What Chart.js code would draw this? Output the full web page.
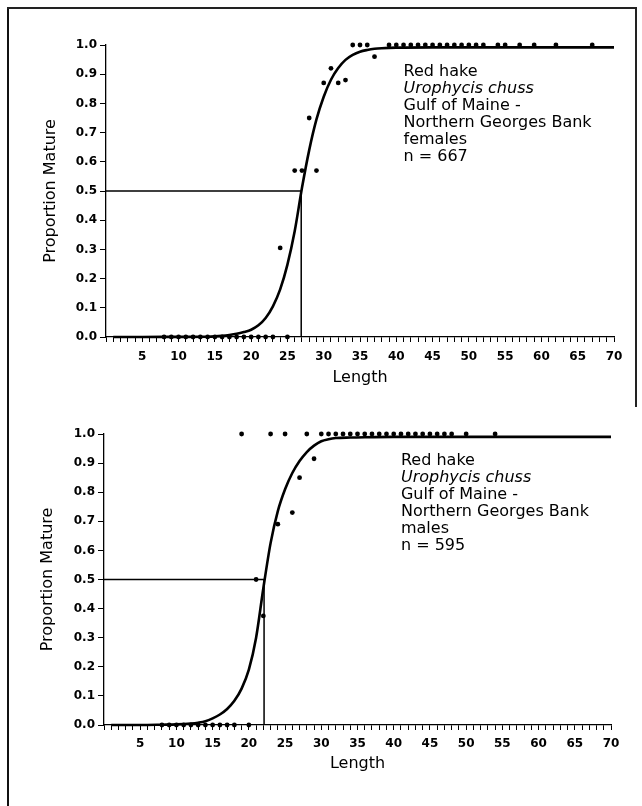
<!DOCTYPE html>
<html>
<head>
<meta charset="utf-8">
<title>Red hake maturity</title>
<script src="https://cdn.jsdelivr.net/npm/chart.js@4.4.1/dist/chart.umd.min.js"></script>
<style>
  html, body { margin: 0; padding: 0; background: #fff; }
  body { width: 642px; height: 806px; position: relative; overflow: hidden; }
  .panel { position: absolute; left: 0; width: 642px; height: 400px; }
  #topPanel { top: 0; }
  #bottomPanel { top: 400px; height: 388px; }
  .frame-left { position: absolute; left: 7px; top: 7px; width: 2px; height: 799px; background: #111; }
  .frame-top { position: absolute; left: 7px; top: 7px; width: 630px; height: 2px; background: #222; }
  .frame-right { position: absolute; left: 635px; top: 7px; width: 2px; height: 400px; background: #222; }
</style>
</head>
<body>
<div class="frame-left"></div>
<div class="frame-top"></div>
<div class="frame-right"></div>
<div class="panel" id="topPanel"><canvas id="femaleChart"></canvas></div>
<div class="panel" id="bottomPanel"><canvas id="maleChart"></canvas></div>

<script>
// observed proportion mature by length class (cm)
const femaleLengths = [8, 9, 10, 11, 12, 13, 14, 15, 16, 17, 18, 19, 20, 21, 22, 23, 25,
  24, 26, 27, 29, 28, 30, 31, 32, 33, 34, 35, 36, 37,
  39, 40, 41, 42, 43, 44, 45, 46, 47, 48, 49, 50, 51, 52, 54, 55, 57, 59, 62, 67];
const femaleProps = [0, 0, 0, 0, 0, 0, 0, 0, 0, 0, 0, 0, 0, 0, 0, 0, 0,
  0.305, 0.57, 0.57, 0.57, 0.75, 0.87, 0.92, 0.87, 0.88, 1, 1, 1, 0.96,
  1, 1, 1, 1, 1, 1, 1, 1, 1, 1, 1, 1, 1, 1, 1, 1, 1, 1, 1, 1];

const maleLengths = [8, 9, 10, 11, 12, 13, 14, 15, 16, 17, 18, 20,
  21, 22, 24, 26, 27, 29,
  19, 23, 25, 28, 30, 31, 32, 33, 34, 35, 36, 37, 38, 39, 40, 41, 42, 43, 44, 45, 46, 47, 48, 50, 54];
const maleProps = [0, 0, 0, 0, 0, 0, 0, 0, 0, 0, 0, 0,
  0.50, 0.375, 0.69, 0.73, 0.85, 0.915,
  1, 1, 1, 1, 1, 1, 1, 1, 1, 1, 1, 1, 1, 1, 1, 1, 1, 1, 1, 1, 1, 1, 1, 1, 1];

// fitted maturity curves
const femaleCurveLengths = [1, 5, 10, 14, 15, 16, 17, 18, 19, 20, 21, 22, 23, 24, 25, 26, 27, 28, 29, 30,
  31, 32, 33, 34, 35, 36, 37, 38, 40, 45, 50, 60, 70];
const femaleCurveProps = [0, 0, 0.0005, 0.001, 0.002, 0.004, 0.007, 0.011, 0.017, 0.025, 0.040, 0.065, 0.105,
  0.163, 0.248, 0.362, 0.51, 0.64, 0.745, 0.823, 0.881, 0.921, 0.949, 0.966, 0.977, 0.983, 0.987, 0.989,
  0.991, 0.992, 0.992, 0.992, 0.992];

const maleCurveLengths = [1, 5, 8, 10, 12, 13, 14, 15, 16, 17, 18, 19, 20, 21, 22, 23, 24, 25, 26, 27,
  28, 29, 30, 31, 32, 34, 36, 40, 50, 60, 70];
const maleCurveProps = [0, 0, 0.001, 0.002, 0.005, 0.008, 0.013, 0.023, 0.036, 0.055, 0.083, 0.125, 0.19,
  0.30, 0.47, 0.625, 0.735, 0.81, 0.866, 0.907, 0.938, 0.96, 0.975, 0.982, 0.986, 0.988, 0.989, 0.99,
  0.99, 0.99, 0.99];

// length at 50% maturity
const femaleL50 = 26.9;
const maleL50 = 22.1;

const yTicks = [0, 0.1, 0.2, 0.3, 0.4, 0.5, 0.6, 0.7, 0.8, 0.9, 1.0];
const xTickLabels = [5, 10, 15, 20, 25, 30, 35, 40, 45, 50, 55, 60, 65, 70];

const femaleNote = ['Red hake', 'Urophycis chuss', 'Gulf of Maine -', 'Northern Georges Bank', 'females', 'n = 667'];
const maleNote = ['Red hake', 'Urophycis chuss', 'Gulf of Maine -', 'Northern Georges Bank', 'males', 'n = 595'];

const FONT = '"DejaVu Sans", "Liberation Sans", Arial, sans-serif';

function pairs(xs, ys) {
  return xs.map((x, i) => ({ x: x, y: ys[i] }));
}

const notePlugin = {
  id: 'note',
  afterDatasetsDraw(chart, args, opts) {
    const ctx = chart.ctx;
    const x = chart.scales.x.getPixelForValue(opts.x);
    let y = chart.scales.y.getPixelForValue(opts.y);
    ctx.save();
    ctx.fillStyle = '#000';
    ctx.textAlign = 'left';
    ctx.textBaseline = 'alphabetic';
    opts.lines.forEach((line, i) => {
      ctx.font = (i === 1 ? 'italic ' : '') + '16px ' + FONT;
      ctx.fillText(line, x, y);
      y += 17;
    });
    ctx.restore();
  }
};

function makeChart(id, lengths, props, curveX, curveY, l50, note, layout) {
  const ctx = document.getElementById(id).getContext('2d');
  return new Chart(ctx, {
    type: 'scatter',
    data: {
      datasets: [
        {
          label: 'fit',
          data: pairs(curveX, curveY),
          showLine: true,
          borderColor: '#000',
          borderWidth: 2.6,
          pointRadius: 0,
          cubicInterpolationMode: 'monotone',
          clip: false
        },
        {
          label: 'L50',
          data: [{ x: 0, y: 0.5 }, { x: l50, y: 0.5 }, { x: l50, y: 0 }],
          showLine: true,
          borderColor: '#000',
          borderWidth: 1.5,
          pointRadius: 0,
          clip: false
        },
        {
          label: 'observed',
          data: pairs(lengths, props),
          backgroundColor: '#000',
          borderColor: '#000',
          pointRadius: 2.4,
          borderWidth: 0,
          clip: false
        }
      ]
    },
    options: {
      responsive: true,
      maintainAspectRatio: false,
      animation: false,
      layout: { padding: layout.padding },
      plugins: {
        legend: { display: false },
        tooltip: { enabled: false },
        note: { x: 41, y: 0.894, lines: note }
      },
      scales: {
        x: {
          type: 'linear',
          min: 0,
          max: 70,
          afterFit: s => { s.height = 63; s.paddingLeft = 0; s.paddingRight = 0; },
          ticks: {
            stepSize: 1,
            autoSkip: false,
            maxRotation: 0,
            padding: layout.xTickPad,
            color: '#000',
            font: { family: FONT, size: 12, weight: 'bold' },
            callback: v => xTickLabels.includes(v) ? String(v) : ''
          },
          grid: { drawOnChartArea: false, tickLength: 5, color: '#000', lineWidth: 1 },
          border: { color: '#000', width: 1.3 },
          title: {
            display: true,
            text: 'Length',
            color: '#000',
            font: { family: FONT, size: 16 },
            padding: { top: 0, bottom: layout.xTitleBottom }
          }
        },
        y: {
          min: 0,
          max: 1,
          afterFit: s => { s.width = layout.yWidth; s.paddingTop = 0; s.paddingBottom = 0; },
          afterBuildTicks: s => { s.ticks = yTicks.map(v => ({ value: v })); },
          ticks: {
            padding: 3,
            color: '#000',
            font: { family: FONT, size: 12, weight: 'bold' },
            callback: v => v.toFixed(1)
          },
          grid: { drawOnChartArea: false, tickLength: 6, color: '#000', lineWidth: 1 },
          border: { color: '#000', width: 1.3 },
          title: {
            display: true,
            text: 'Proportion Mature',
            color: '#000',
            font: { family: FONT, size: 16 },
            padding: { top: layout.yTitleTop, bottom: 0 }
          }
        }
      }
    },
    plugins: [notePlugin]
  });
}

makeChart('femaleChart', femaleLengths, femaleProps, femaleCurveLengths, femaleCurveProps, femaleL50, femaleNote,
  { padding: { top: 45, left: 0, right: 28, bottom: 0 }, yWidth: 106, yTitleTop: 41, xTitleBottom: 13, xTickPad: 8 });
makeChart('maleChart', maleLengths, maleProps, maleCurveLengths, maleCurveProps, maleL50, maleNote,
  { padding: { top: 34, left: 0, right: 31, bottom: 0 }, yWidth: 104, yTitleTop: 38, xTitleBottom: 15, xTickPad: 7 });
</script>
</body>
</html>
